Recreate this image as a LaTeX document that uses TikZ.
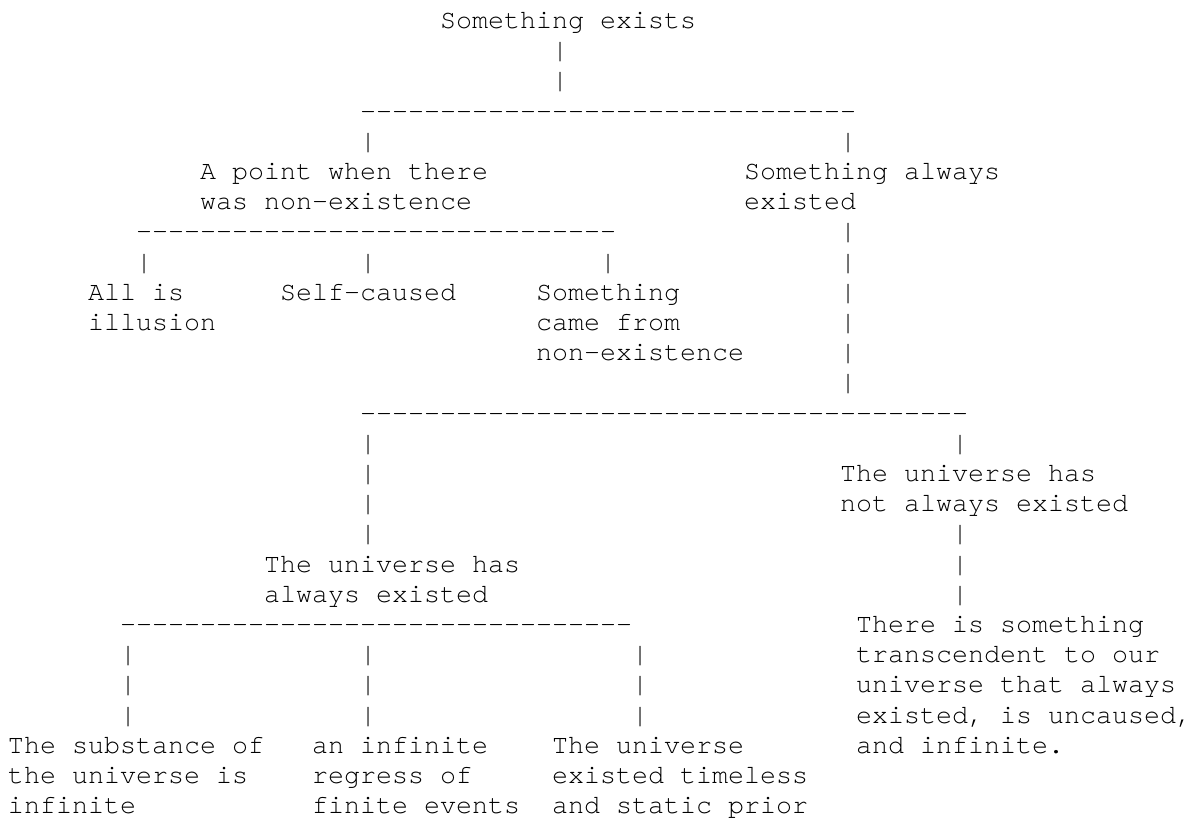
\documentclass[tikz,border=0pt]{standalone}
\usepackage{fontspec}
\setmonofont{TeX Gyre Cursor}[Ligatures=NoCommon]
\tikzset{
  txt/.style={anchor=base west, inner sep=0pt, outer sep=0pt, text=black,
    font=\ttfamily\frenchspacing\fontsize{26.67}{30.2}\selectfont},
}
% place text #4 named #1 at column #2, row #3 of the character grid
\newcommand\asc[4]{\node[txt] (#1) at ({8+16*(#2)},{28.5+30.2*(#3)}) {#4};}
\begin{document}
\begin{tikzpicture}[x=1pt,y=-1pt]
\useasboundingbox (0,0) rectangle (1192,817);
% row 0-4
\asc{root}{27}{0}{Something exists}
\asc{p1a}{34}{1}{|}
\asc{p1b}{34}{2}{|}
\asc{bar1}{22}{3}{-------------------------------}
\asc{p2a}{22}{4}{|}
\asc{p3a}{52}{4}{|}
% row 5-6
\asc{pt1}{12}{5}{A point when there}
\asc{pt2}{12}{6}{was non-existence}
\asc{sa1}{46}{5}{Something always}
\asc{sa2}{46}{6}{existed}
% row 7-12
\asc{bar2}{8}{7}{------------------------------}
\asc{p3b}{52}{7}{|}
\asc{p4a}{8}{8}{|}
\asc{p5a}{22}{8}{|}
\asc{p6a}{37}{8}{|}
\asc{p3c}{52}{8}{|}
\asc{ai1}{5}{9}{All is}
\asc{ai2}{5}{10}{illusion}
\asc{sc1}{17}{9}{Self-caused}
\asc{cf1}{33}{9}{Something}
\asc{cf2}{33}{10}{came from}
\asc{cf3}{33}{11}{non-existence}
\asc{p3d}{52}{9}{|}
\asc{p3e}{52}{10}{|}
\asc{p3f}{52}{11}{|}
\asc{p3g}{52}{12}{|}
% row 13-19
\asc{bar3}{22}{13}{--------------------------------------}
\asc{p7a}{22}{14}{|}
\asc{p7b}{22}{15}{|}
\asc{p7c}{22}{16}{|}
\asc{p7d}{22}{17}{|}
\asc{p8a}{59}{14}{|}
\asc{nu1}{52}{15}{The universe has}
\asc{nu2}{52}{16}{not always existed}
\asc{p8b}{59}{17}{|}
\asc{p8c}{59}{18}{|}
\asc{p8d}{59}{19}{|}
\asc{ua1}{16}{18}{The universe has}
\asc{ua2}{16}{19}{always existed}
% row 20-26
\asc{bar4}{7}{20}{--------------------------------}
\asc{tr1}{53}{20}{There is something}
\asc{tr2}{53}{21}{transcendent to our}
\asc{tr3}{53}{22}{universe that always}
\asc{tr4}{53}{23}{existed, is uncaused,}
\asc{tr5}{53}{24}{and infinite.}
\asc{p9a}{7}{21}{|}
\asc{p9b}{7}{22}{|}
\asc{p9c}{7}{23}{|}
\asc{p10a}{22}{21}{|}
\asc{p10b}{22}{22}{|}
\asc{p10c}{22}{23}{|}
\asc{p11a}{39}{21}{|}
\asc{p11b}{39}{22}{|}
\asc{p11c}{39}{23}{|}
\asc{si1}{0}{24}{The substance of}
\asc{si2}{0}{25}{the universe is}
\asc{si3}{0}{26}{infinite}
\asc{ir1}{19}{24}{an infinite}
\asc{ir2}{19}{25}{regress of}
\asc{ir3}{19}{26}{finite events}
\asc{ts1}{34}{24}{The universe}
\asc{ts2}{34}{25}{existed timeless}
\asc{ts3}{34}{26}{and static prior}
\end{tikzpicture}
\end{document}
